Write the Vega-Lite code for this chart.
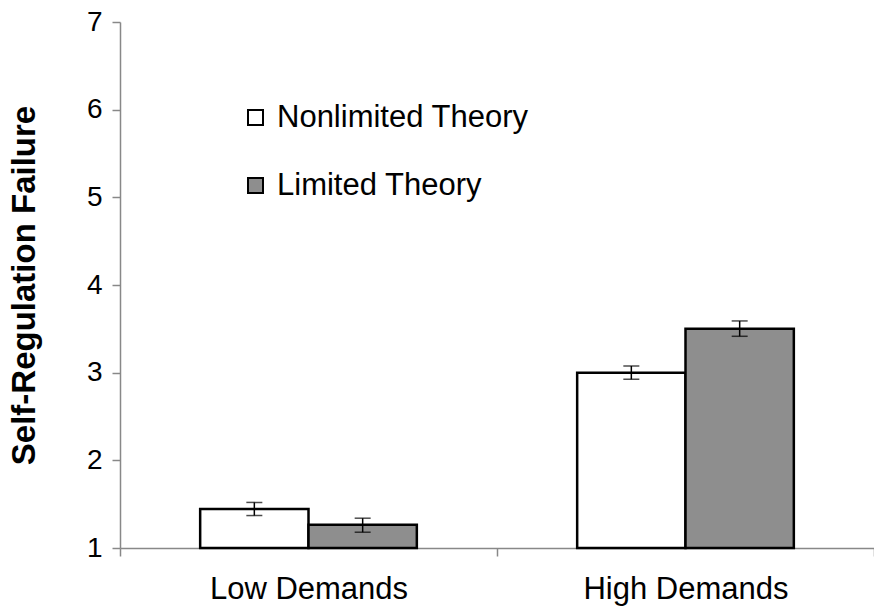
{
  "$schema": "https://vega.github.io/schema/vega-lite/v6.json",
  "autosize": "none",
  "width": 754,
  "height": 526,
  "padding": {"left": 120, "top": 22, "right": 0, "bottom": 65},
  "background": "white",
  "config": {
    "font": "Liberation Sans",
    "view": {"stroke": null},
    "axis": {"grid": false}
  },
  "data": {
    "values": [
      {"demand": "Low Demands", "theory": "Nonlimited Theory", "mean": 1.445, "lo": 1.37, "hi": 1.52},
      {"demand": "Low Demands", "theory": "Limited Theory", "mean": 1.265, "lo": 1.18, "hi": 1.34},
      {"demand": "High Demands", "theory": "Nonlimited Theory", "mean": 3.0, "lo": 2.924, "hi": 3.076},
      {"demand": "High Demands", "theory": "Limited Theory", "mean": 3.5, "lo": 3.415, "hi": 3.59}
    ]
  },
  "encoding": {
    "x": {
      "field": "demand",
      "type": "nominal",
      "sort": ["Low Demands", "High Demands"],
      "scale": {"paddingInner": 0, "paddingOuter": 0},
      "axis": {
        "title": null,
        "labelAngle": 0,
        "labelFontSize": 31,
        "labelLimit": 0,
        "labelColor": "black",
        "labelPadding": 18,
        "domainColor": "#888888",
        "domainWidth": 1.5,
        "tickColor": "#888888",
        "tickWidth": 1.5,
        "tickSize": 8,
        "tickBand": "extent"
      }
    },
    "xOffset": {
      "field": "theory",
      "type": "nominal",
      "sort": ["Nonlimited Theory", "Limited Theory"],
      "scale": {"paddingInner": 0, "paddingOuter": 0.74}
    }
  },
  "layer": [
    {
      "mark": {"type": "bar", "stroke": "black", "strokeWidth": 2.5},
      "encoding": {
        "y": {
          "field": "mean",
          "type": "quantitative",
          "scale": {"domain": [1, 7], "zero": false, "nice": false},
          "axis": {
            "title": "Self-Regulation Failure",
            "titleFontSize": 33,
            "titleFontWeight": "bold",
            "titleColor": "black",
            "titlePadding": 45,
            "values": [1, 2, 3, 4, 5, 6, 7],
            "format": "d",
            "labelFontSize": 28,
            "labelColor": "black",
            "labelPadding": 10,
            "domainColor": "#888888",
            "domainWidth": 1.5,
            "tickColor": "#888888",
            "tickWidth": 1.5,
            "tickSize": 8
          }
        },
        "y2": {"datum": 1},
        "fill": {
          "field": "theory",
          "type": "nominal",
          "sort": ["Nonlimited Theory", "Limited Theory"],
          "scale": {"domain": ["Nonlimited Theory", "Limited Theory"], "range": ["white", "#8e8e8e"]},
          "legend": {
            "title": null,
            "orient": "none",
            "legendX": 120,
            "legendY": 80,
            "padding": 0,
            "symbolType": "square",
            "symbolSize": 225,
            "symbolStrokeColor": "black",
            "symbolStrokeWidth": 2,
            "labelFontSize": 31,
            "labelLimit": 0,
            "labelColor": "black",
            "labelOffset": 6,
            "rowPadding": 36
          }
        }
      }
    },
    {
      "mark": {"type": "rule", "color": "black", "strokeWidth": 1.5},
      "encoding": {
        "y": {"field": "lo", "type": "quantitative"},
        "y2": {"field": "hi"}
      }
    },
    {
      "mark": {"type": "tick", "color": "black", "size": 16, "thickness": 1.5},
      "encoding": {
        "y": {"field": "lo", "type": "quantitative"}
      }
    },
    {
      "mark": {"type": "tick", "color": "black", "size": 16, "thickness": 1.5},
      "encoding": {
        "y": {"field": "hi", "type": "quantitative"}
      }
    }
  ]
}
